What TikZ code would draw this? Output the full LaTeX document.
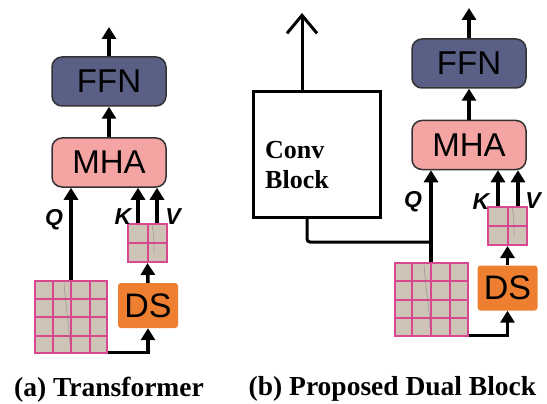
\documentclass[tikz,border=0pt]{standalone}
\usepackage{fontspec}
\setmainfont{Liberation Serif}
\setsansfont{Liberation Sans}
\usetikzlibrary{arrows.meta,calc}

\definecolor{ffnblue}{HTML}{5A5F86}
\definecolor{mhapink}{HTML}{F4A5A3}
\definecolor{dsorange}{HTML}{EE7F30}
\definecolor{patchfill}{HTML}{CDC3B7}
\definecolor{gridpink}{HTML}{D8488F}

\tikzset{
  blk/.style={draw=black!80, line width=1.5pt, rounded corners=10pt,
    minimum width=114pt, minimum height=49pt, inner sep=0pt,
    font=\sffamily\fontsize{33}{33}\selectfont},
  ffnbox/.style={blk, fill=ffnblue},
  mhabox/.style={blk, fill=mhapink},
  dsbox/.style={fill=dsorange, rounded corners=3pt, minimum width=60pt,
    minimum height=45pt, inner sep=0pt, font=\sffamily\fontsize{34}{34}\selectfont},
  patch/.style={fill=patchfill, draw=gridpink, line width=2pt, inner sep=0pt},
  gridline/.style={draw=gridpink, line width=2pt},
  crack/.style={draw=black!60, line width=0.5pt, opacity=0.5},
  flow/.style={line width=3.5pt, -{Triangle[length=12pt,width=14pt]}},
  plain/.style={line width=3pt},
  lbl/.style={font=\sffamily\bfseries\itshape\fontsize{23}{23}\selectfont},
  convtext/.style={font=\bfseries\fontsize{26}{26}\selectfont, inner sep=0pt, anchor=base west},
  caption/.style={font=\bfseries\fontsize{27.5}{27.5}\selectfont},
}

% inner lines of a patch node split into (#2+1) x (#2+1) cells
\newcommand\patchgrid[2]{%
  \foreach \k in {1,...,#2}{%
    \pgfmathsetmacro\t{\k/(#2+1)}%
    \draw[gridline] ($(#1.north west)!\t!(#1.north east)$) -- ($(#1.south west)!\t!(#1.south east)$);
    \draw[gridline] ($(#1.north west)!\t!(#1.south west)$) -- ($(#1.north east)!\t!(#1.south east)$);
  }%
}

\begin{document}
\begin{tikzpicture}[x=1pt,y=-1pt]
\fill[white] (0,0) rectangle (547,404);
\useasboundingbox (0,0) rectangle (547,404);

% ---------- (a) Transformer ----------
\node[ffnbox] (ffnA) at (109,81.5) {FFN};
\node[mhabox] (mhaA) at (109,162.5) {MHA};
\node[patch, minimum width=72pt, minimum height=72pt] (gA) at (71,317) {};
\patchgrid{gA}{3}
\draw[crack] (64,283) .. controls (66,310) and (69,325) .. (70,345);
\node[patch, minimum width=39pt, minimum height=38pt] (sA) at (147.5,243) {};
\patchgrid{sA}{1}
\draw[crack] (152,225) .. controls (154,235) .. (154,253);
\node[dsbox] (dsA) at (148,305.5) {DS};

\coordinate (outA) at (109,27);
\draw[flow] (ffnA.north) -- (outA);
\draw[flow] (mhaA.north) -- (ffnA.south);
\draw[flow] (gA.north) -- (gA.north |- mhaA.south);
\draw[flow] ([xshift=-9.5pt]sA.north) -- ([xshift=-9.5pt]sA.north |- mhaA.south);
\draw[flow] ([xshift=9.5pt]sA.north) -- ([xshift=9.5pt]sA.north |- mhaA.south);
\draw[flow] (dsA.north) -- (sA.south);
\draw[flow] ([yshift=1.75pt]gA.south east) -| (dsA.south);

\node[lbl] (qA) at (54,220) {Q};
\node[lbl] (kA) at (123,217) {K};
\node[lbl] (vA) at (173,217) {V};

\node[caption] (capA) at (109,390) {(a) Transformer};

% ---------- (b) Proposed Dual Block ----------
\node[ffnbox] (ffnB) at (469,63.5) {FFN};
\node[mhabox] (mhaB) at (469,145) {MHA};
\node[draw, line width=3pt, minimum width=127pt, minimum height=125pt, inner sep=0pt] (convB) at (316.5,154.5) {};
\node[convtext] (conv1) at (265,158) {Conv};
\node[convtext] (conv2) at (265,189) {Block};
\node[patch, minimum width=73pt, minimum height=73pt] (gB) at (431,299.5) {};
\patchgrid{gB}{3}
\draw[crack] (424,265) .. controls (426,290) and (429,305) .. (430,328);
\node[patch, minimum width=39pt, minimum height=38pt] (sB) at (507.5,226) {};
\patchgrid{sB}{1}
\draw[crack] (512,208) .. controls (514,218) .. (514,236);
\node[dsbox] (dsB) at (507.5,288) {DS};

\coordinate (outB) at (469,8);
\coordinate (outConv) at (302,13);
\coordinate (qjoin) at ($(gB.north)+(0,-20)$);
\draw[flow] (ffnB.north) -- (outB);
\draw[flow] (mhaB.north) -- (ffnB.south);
\draw[flow] (gB.north) -- (gB.north |- mhaB.south);
\draw[flow] ([xshift=-9.5pt]sB.north) -- ([xshift=-9.5pt]sB.north |- mhaB.south);
\draw[flow] ([xshift=10.5pt]sB.north) -- ([xshift=10.5pt]sB.north |- mhaB.south);
\draw[flow] (dsB.north) -- (sB.south);
\draw[flow] ([yshift=1.75pt]gB.south east) -| (dsB.south);
\draw[plain, -{Straight Barb[length=18pt,width=30pt]}] ([xshift=-14.5pt]convB.north) -- (outConv);
\draw[plain, rounded corners=3pt] ([xshift=-9.5pt]convB.south) |- (qjoin);

\node[lbl] (qB) at (413,202) {Q};
\node[lbl] (kB) at (481,202) {K};
\node[lbl] (vB) at (533,201) {V};

\node[caption] (capB) at (392.5,389) {(b) Proposed Dual Block};
\end{tikzpicture}
\end{document}
